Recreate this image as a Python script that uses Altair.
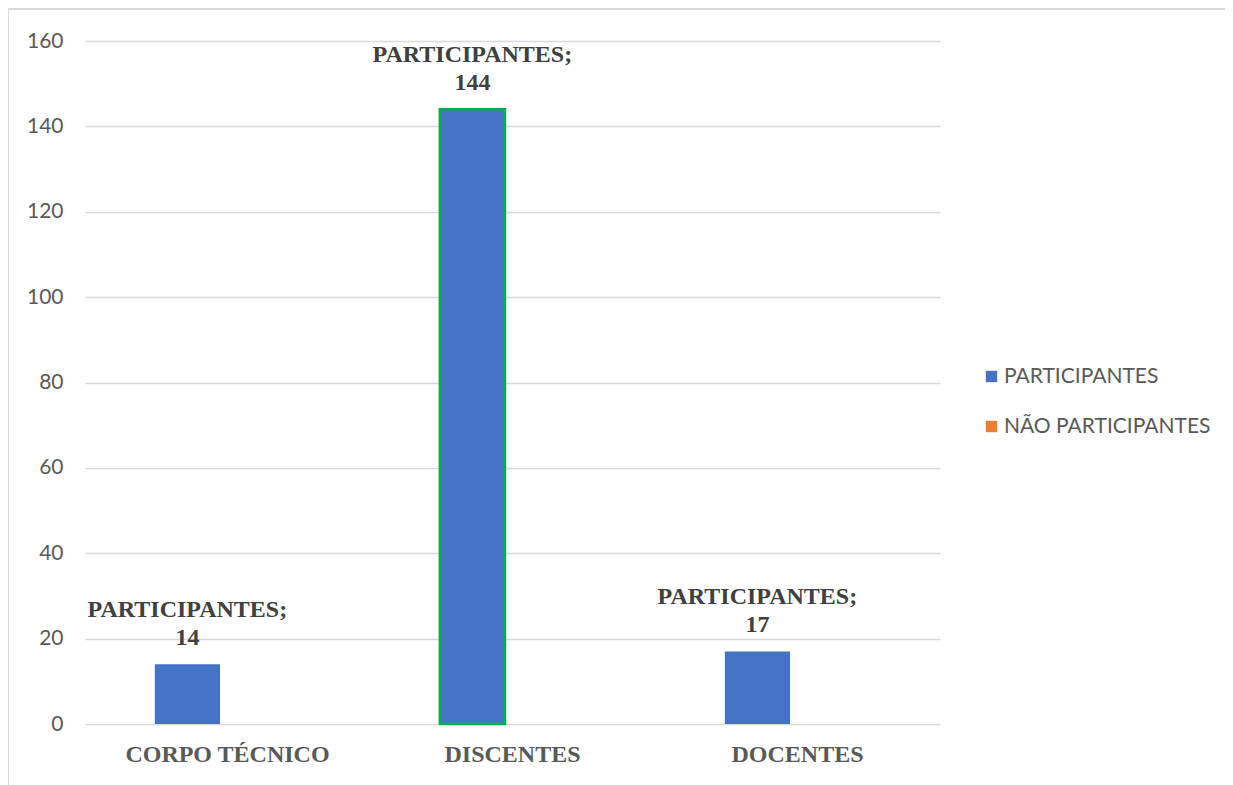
import altair as alt
import pandas as pd

categories = ["CORPO TÉCNICO", "DISCENTES", "DOCENTES"]
series = ["PARTICIPANTES", "NÃO PARTICIPANTES"]
participantes = [14, 144, 17]
colors = ["#4472C4", "#ED7D31"]

df = pd.DataFrame({
    "categoria": categories,
    "serie": [series[0]] * len(categories),
    "valor": participantes,
})

W, H = 855, 683

x = alt.X("categoria:N", sort=categories,
          scale=alt.Scale(paddingInner=0.49, paddingOuter=0.245),
          axis=alt.Axis(title=None, labelAngle=0, labelFont="Liberation Serif",
                        labelFontWeight="bold", labelFontSize=24, labelColor="#595959",
                        labelPadding=18, labelLimit=0, ticks=False, domain=False, grid=False))
xo = alt.XOffset("serie:N", scale=alt.Scale(domain=series, paddingInner=0.1875, paddingOuter=0))
y = alt.Y("valor:Q",
          scale=alt.Scale(domain=[0, 160], nice=False),
          axis=alt.Axis(title=None, values=list(range(0, 161, 20)), labelFont="Lato",
                        labelFontSize=21, labelColor="#595959", labelPadding=22,
                        ticks=False, domain=False, gridColor="#D9D9D9", gridWidth=1.5))

bars = alt.Chart(df).mark_bar(strokeWidth=2.5).encode(
    x=x, xOffset=xo, y=y,
    color=alt.Color("serie:N", scale=alt.Scale(domain=series, range=colors),
                    legend=alt.Legend(title=None, orient="none", legendX=896, legendY=325,
                                      symbolType="square", symbolSize=130,
                                      symbolStrokeWidth=0, labelFont="Lato",
                                      labelFontSize=21, labelColor="#595959",
                                      labelOffset=2, rowPadding=28, padding=0,
                                      labelLimit=0)),
    stroke=alt.condition(alt.datum.categoria == "DISCENTES",
                         alt.value("#00B050"), alt.value(None)),
)

labels = alt.Chart(df).transform_calculate(
    rotulo=alt.datum.serie + ";\n" + alt.datum.valor
).mark_text(lineBreak="\n", font="Liberation Serif", fontWeight="bold", fontSize=24,
            color="#404040", baseline="bottom", dy=-42, lineHeight=28).encode(
    x=x, xOffset=xo, y=y, text="rotulo:N"
)

frame_top = alt.Chart(df).mark_rule(color="#D9D9D9", strokeWidth=2).encode(
    x=alt.value(-77), x2=alt.value(1140), y=alt.value(-32)
)
frame_left = alt.Chart(df).mark_rule(color="#D9D9D9", strokeWidth=2).encode(
    x=alt.value(-77), y=alt.value(-32), y2=alt.value(800)
)

chart = alt.layer(frame_top, frame_left, bars, labels).properties(
    width=W, height=H,
    autosize=alt.AutoSizeParams(type="none"),
    padding={"left": 77, "top": 33, "right": 285, "bottom": 61},
).configure(background="white").configure_view(stroke=None, strokeWidth=0)

chart.save("out.html", embed_options={"renderer": "svg", "actions": False})
